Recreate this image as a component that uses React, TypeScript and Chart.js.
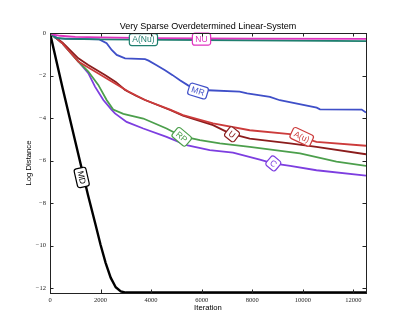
import React, { useEffect, useRef } from "react";
import { Chart, registerables } from "chart.js";

Chart.register(...registerables);

const TITLE = "Very Sparse Overdetermined Linear-System";
const X_LABEL = "Iteration";
const Y_LABEL = "Log Distance";
const X_TICKS = [0, 2000, 4000, 6000, 8000, 10000, 12000];
const Y_TICKS = [0, -2, -4, -6, -8, -10, -12];
const X_MAX = 12500;
const Y_MIN = -12.22;

const NU_X = [0, 150, 400, 1000, 2000, 4000, 8000, 12500];
const NU_Y = [0, -0.08, -0.13, -0.18, -0.21, -0.24, -0.26, -0.28];

const ANU_X = [0, 200, 600, 2000, 6000, 12500];
const ANU_Y = [0, -0.22, -0.28, -0.3, -0.33, -0.38];

const MR_X = [0, 300, 1950, 2240, 2440, 2640, 2970, 3760, 3900, 4200, 4550, 4850, 5140, 5460, 5850, 6250, 7500, 7800, 8700, 9090, 10550, 10680, 12330, 12500];
const MR_Y = [0, -0.25, -0.3, -0.48, -0.8, -1.03, -1.19, -1.23, -1.3, -1.5, -1.75, -1.98, -2.22, -2.46, -2.68, -2.69, -2.76, -2.84, -3.0, -3.16, -3.51, -3.59, -3.6, -3.74];

const AU_X = [0, 500, 1120, 1780, 2440, 3100, 3760, 4750, 5260, 6450, 7900, 9490, 9950, 10540, 12500];
const AU_Y = [0, -0.5, -1.34, -1.81, -2.28, -2.75, -3.15, -3.6, -3.86, -4.25, -4.57, -4.75, -4.9, -5.12, -5.3];

const U_X = [0, 500, 1120, 1515, 2175, 2600, 2970, 3400, 3760, 4750, 5260, 6450, 7110, 7900, 9490, 10540, 12500];
const U_Y = [0, -0.45, -1.19, -1.5, -1.97, -2.3, -2.68, -2.95, -3.15, -3.62, -3.88, -4.33, -4.72, -4.96, -5.19, -5.35, -5.7];

const RP_X = [0, 500, 1120, 1515, 1910, 2240, 2500, 2900, 3690, 4610, 5200, 5930, 6720, 7900, 9890, 11330, 12500];
const RP_Y = [0, -0.5, -1.34, -1.81, -2.44, -3.15, -3.6, -3.8, -4.02, -4.49, -4.85, -5.04, -5.19, -5.35, -5.66, -6.05, -6.25];

const C_X = [0, 500, 1120, 1515, 1780, 2110, 2440, 2570, 3030, 3690, 4610, 5400, 6320, 7240, 8300, 8820, 9500, 10540, 12500];
const C_Y = [0, -0.5, -1.34, -1.89, -2.52, -3.15, -3.61, -3.78, -4.18, -4.49, -4.88, -5.27, -5.51, -5.62, -5.95, -6.13, -6.25, -6.45, -6.7];

const MD_X = [0, 500, 1000, 1500, 1800, 2000, 2200, 2400, 2600, 2800, 3000, 3200, 12500];
const MD_Y = [0, -2.6, -5.1, -7.6, -9.0, -9.95, -10.8, -11.5, -11.95, -12.15, -12.2, -12.2, -12.2];

const SERIES = [
  { name: "NU", xs: NU_X, ys: NU_Y, color: "#e032bf", width: 1.8 },
  { name: "A(Nu)", xs: ANU_X, ys: ANU_Y, color: "#1f7f6f", width: 1.8 },
  { name: "MR", xs: MR_X, ys: MR_Y, color: "#3f4fc8", width: 1.8 },
  { name: "A(u)", xs: AU_X, ys: AU_Y, color: "#cc3b3b", width: 1.8 },
  { name: "U", xs: U_X, ys: U_Y, color: "#8b1c1c", width: 1.8 },
  { name: "RP", xs: RP_X, ys: RP_Y, color: "#4c9f4c", width: 1.8 },
  { name: "C", xs: C_X, ys: C_Y, color: "#7d3ee0", width: 1.8 },
  { name: "MD", xs: MD_X, ys: MD_Y, color: "#000000", width: 2.4 },
];

// inline labels: text, data position, rotation (deg)
const LABEL_TEXT = ["MD", "A(Nu)", "NU", "MR", "U", "A(u)", "RP", "C"];
const LABEL_X = [1254, 3696, 5993, 5855, 7200, 9957, 5210, 8834];
const LABEL_Y = [-6.79, -0.31, -0.29, -2.73, -4.76, -4.88, -4.88, -6.13];
const LABEL_ROT = [77, 0, 0, 17, 38, 25, 40, 40];

const labelPlugin = {
  id: "inlineLabels",
  afterDatasetsDraw(chart: any) {
    const ctx = chart.ctx;
    const xs = chart.scales.x;
    const ys = chart.scales.y;
    ctx.save();
    LABEL_TEXT.forEach((t, i) => {
      const s = SERIES.find((d) => d.name === t)!;
      const px = xs.getPixelForValue(LABEL_X[i]);
      const py = ys.getPixelForValue(LABEL_Y[i]);
      ctx.save();
      ctx.translate(px, py);
      ctx.rotate((LABEL_ROT[i] * Math.PI) / 180);
      ctx.font = '8.5px "Liberation Sans", Arial, sans-serif';
      const tw = ctx.measureText(t).width;
      const w = tw + 6;
      const h = 12;
      ctx.beginPath();
      (ctx as any).roundRect(-w / 2, -h / 2, w, h, 2.5);
      ctx.fillStyle = "#ffffff";
      ctx.fill();
      ctx.lineWidth = 1.2;
      ctx.strokeStyle = s.color;
      ctx.stroke();
      ctx.fillStyle = s.color;
      ctx.textAlign = "center";
      ctx.textBaseline = "middle";
      ctx.fillText(t, 0, 0.5);
      ctx.restore();
    });
    ctx.restore();
  },
};

const framePlugin = {
  id: "frame",
  afterDraw(chart: any) {
    const ctx = chart.ctx;
    const a = chart.chartArea;
    const xs = chart.scales.x;
    const ys = chart.scales.y;
    ctx.save();
    ctx.strokeStyle = "#222";
    ctx.lineWidth = 1;
    ctx.strokeRect(Math.round(a.left) + 0.5, Math.round(a.top) + 0.5, Math.round(a.right - a.left), Math.round(a.bottom - a.top));
    const tl = 3.5;
    ctx.beginPath();
    X_TICKS.forEach((v) => {
      const p = Math.round(xs.getPixelForValue(v)) + 0.5;
      ctx.moveTo(p, a.bottom);
      ctx.lineTo(p, a.bottom - tl);
      ctx.moveTo(p, a.top);
      ctx.lineTo(p, a.top + tl);
    });
    Y_TICKS.forEach((v) => {
      const p = Math.round(ys.getPixelForValue(v)) + 0.5;
      ctx.moveTo(a.left, p);
      ctx.lineTo(a.left + tl, p);
      ctx.moveTo(a.right, p);
      ctx.lineTo(a.right - tl, p);
    });
    ctx.stroke();
    ctx.fillStyle = "#000";
    ctx.textAlign = "center";
    ctx.textBaseline = "middle";
    ctx.font = '9px "Liberation Sans", Arial, sans-serif';
    const cx = (a.left + a.right) / 2;
    ctx.fillText(TITLE, cx, 26.5);
    ctx.font = '7.7px "Liberation Sans", Arial, sans-serif';
    ctx.fillText(X_LABEL, cx, 308);
    ctx.save();
    ctx.translate(29, (a.top + a.bottom) / 2);
    ctx.rotate(-Math.PI / 2);
    ctx.fillText(Y_LABEL, 0, 0);
    ctx.restore();
    ctx.restore();
  },
};

const fmt = (v: any) => String(v).replace("-", "\u2212");

export default function App() {
  const ref = useRef<HTMLCanvasElement>(null);
  useEffect(() => {
    if (!ref.current) return;
    const chart = new Chart(ref.current, {
      type: "scatter",
      data: {
        datasets: SERIES.map((s) => ({
          label: s.name,
          data: s.xs.map((x, i) => ({ x, y: s.ys[i] })),
          showLine: true,
          borderColor: s.color,
          backgroundColor: s.color,
          borderWidth: s.width,
          pointRadius: 0,
          tension: 0,
        })),
      },
      options: {
        animation: false,
        responsive: false,
        devicePixelRatio: 1,
        layout: { padding: { top: 33, right: 41, left: 0, bottom: 0 } },
        plugins: { legend: { display: false }, tooltip: { enabled: false }, title: { display: false } },
        scales: {
          x: {
            type: "linear",
            min: 0,
            max: X_MAX,
            grid: { display: false, drawTicks: false },
            border: { display: false },
            afterBuildTicks: (sc: any) => {
              sc.ticks = X_TICKS.map((v) => ({ value: v }));
            },
            afterFit: (sc: any) => {
              sc.height = 33;
            },
            ticks: {
              padding: 3,
              maxRotation: 0,
              color: "#222",
              font: { family: '"Liberation Serif", serif', size: 6.5 },
              callback: fmt,
            },
          },
          y: {
            type: "linear",
            min: Y_MIN,
            max: 0,
            grid: { display: false, drawTicks: false },
            border: { display: false },
            afterBuildTicks: (sc: any) => {
              sc.ticks = Y_TICKS.map((v) => ({ value: v }));
            },
            afterFit: (sc: any) => {
              sc.width = 50;
            },
            ticks: {
              padding: 4,
              color: "#222",
              font: { family: '"Liberation Serif", serif', size: 6.5 },
              callback: fmt,
            },
          },
        },
      },
      plugins: [labelPlugin, framePlugin],
    });
    return () => chart.destroy();
  }, []);
  return (
    <div style={{ position: "absolute", left: 0, top: 0, width: 407, height: 326, background: "#fff" }}>
      <canvas ref={ref} width={407} height={326} style={{ width: 407, height: 326 }} />
    </div>
  );
}
